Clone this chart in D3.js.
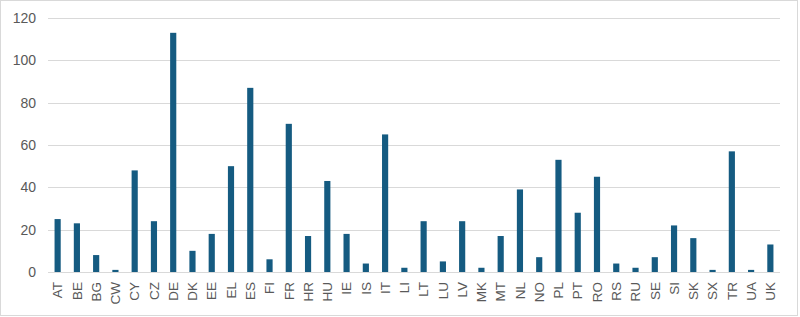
<!DOCTYPE html>
<meta charset="utf-8">
<body></body>
<script src="https://cdn.jsdelivr.net/npm/d3@7"></script>
<style>
    body { margin: 0; background: #fff; }
    .grid line { stroke: #d9d9d9; stroke-width: 1px; }
    .axis text { fill: #595959; font-family: "Liberation Sans", Arial, sans-serif; }
</style>
<script>

    var countries = ["AT","BE","BG","CW","CY","CZ","DE","DK","EE","EL","ES","FI","FR","HR","HU","IE","IS","IT","LI","LT","LU","LV","MK","MT","NL","NO","PL","PT","RO","RS","RU","SE","SI","SK","SX","TR","UA","UK"];
    var values = [25,23,8,1,48,24,113,10,18,50,87,6,70,17,43,18,4,65,2,24,5,24,2,17,39,7,53,28,45,4,2,7,22,16,1,57,1,13];
    var yTicks = [0,20,40,60,80,100,120];

    var width = 800,
        height = 317;

    var svg = d3.select("body").append("svg")
        .attr("width", width)
        .attr("height", height);

    // outer frame
    svg.append("rect")
        .attr("x", 0.5).attr("y", 0.5)
        .attr("width", 797).attr("height", 315)
        .attr("fill", "#fff")
        .attr("stroke", "#d9d9d9");

    var x = d3.scaleBand()
        .domain(countries)
        .range([48, 780])
        .paddingInner(0.68)
        .paddingOuter(0.34);

    var y = d3.scaleLinear()
        .domain([0, 120])
        .range([272, 18]);

    // gridlines
    svg.append("g")
        .attr("class", "grid")
        .selectAll("line")
        .data(yTicks)
        .enter().append("line")
            .attr("x1", 48)
            .attr("x2", 780)
            .attr("y1", d => Math.round(y(d)) + 0.5)
            .attr("y2", d => Math.round(y(d)) + 0.5);

    // y axis labels
    var yAxis = svg.append("g")
        .attr("class", "axis")
        .attr("transform", "translate(36,0)")
        .call(d3.axisLeft(y).tickValues(yTicks).tickSize(0).tickPadding(0));
    yAxis.select(".domain").remove();
    yAxis.selectAll("text").style("font-size", "14px");

    // bars
    svg.append("g")
        .selectAll("rect")
        .data(values)
        .enter().append("rect")
            .attr("x", (d, i) => x(countries[i]))
            .attr("y", d => y(d))
            .attr("width", x.bandwidth())
            .attr("height", d => y(0) - y(d))
            .attr("fill", "#155b81");

    // x axis
    var xAxis = svg.append("g")
        .attr("class", "axis")
        .attr("transform", "translate(0,272)")
        .call(d3.axisBottom(x).tickSize(0).tickPadding(0));
    xAxis.select(".domain").remove();
    xAxis.selectAll("text")
        .style("font-size", "13.5px")
        .attr("transform", "rotate(-90)")
        .attr("text-anchor", "end")
        .attr("x", -10)
        .attr("y", 0)
        .attr("dy", "0.35em");

</script>
